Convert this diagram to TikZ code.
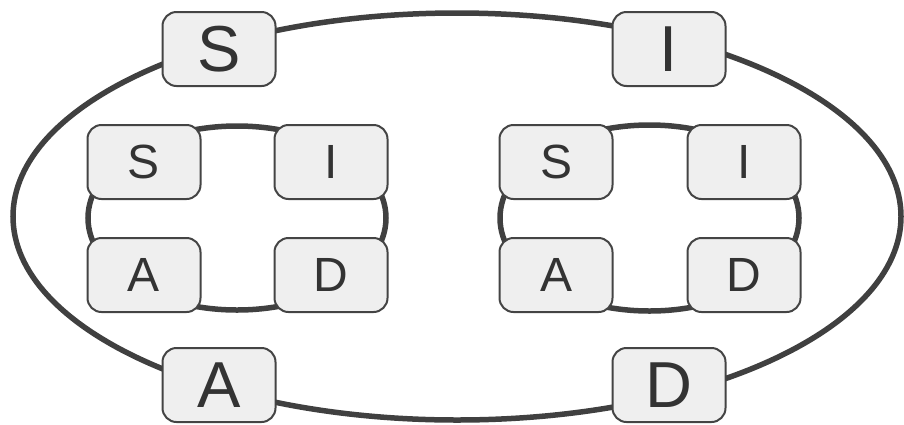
\documentclass[tikz,border=0pt]{standalone}
\usepackage{fontspec}
\setmainfont{Liberation Sans}
\definecolor{boxfill}{HTML}{EFEFEF}
\definecolor{boxline}{HTML}{444444}
\definecolor{ringline}{HTML}{404040}
\definecolor{txt}{HTML}{333333}
\begin{document}
\begin{tikzpicture}[x=1pt,y=-1pt,
  ring/.style={draw=ringline,line width=5.5pt},
  card/.style={draw=boxline,fill=boxfill,line width=2pt,rounded corners=14pt,
    minimum width=113pt,minimum height=74pt,inner sep=0pt,text=txt},
  bigcard/.style={card,font=\fontsize{65}{65}\selectfont},
  smallcard/.style={card,font=\fontsize{48}{48}\selectfont}]
\useasboundingbox (0,0) rectangle (904,424);
% rings
\draw[ring] (457,216.5) ellipse [x radius=444, y radius=203.5];
\draw[ring] (237,218) ellipse [x radius=149, y radius=92];
\draw[ring] (649.5,218) ellipse [x radius=149.5, y radius=93];
% outer nodes
\node[bigcard] (S) at (219,49) {S};
\node[bigcard] (I) at (669,49) {I};
\node[bigcard] (A) at (219,385) {A};
\node[bigcard] (D) at (669,385) {D};
% left group
\node[smallcard] (lS) at (144,162) {S};
\node[smallcard] (lI) at (331,162) {I};
\node[smallcard] (lA) at (144,275) {A};
\node[smallcard] (lD) at (331,275) {D};
% right group
\node[smallcard] (rS) at (556,162) {S};
\node[smallcard] (rI) at (744,162) {I};
\node[smallcard] (rA) at (556,275) {A};
\node[smallcard] (rD) at (744,275) {D};
\end{tikzpicture}
\end{document}
